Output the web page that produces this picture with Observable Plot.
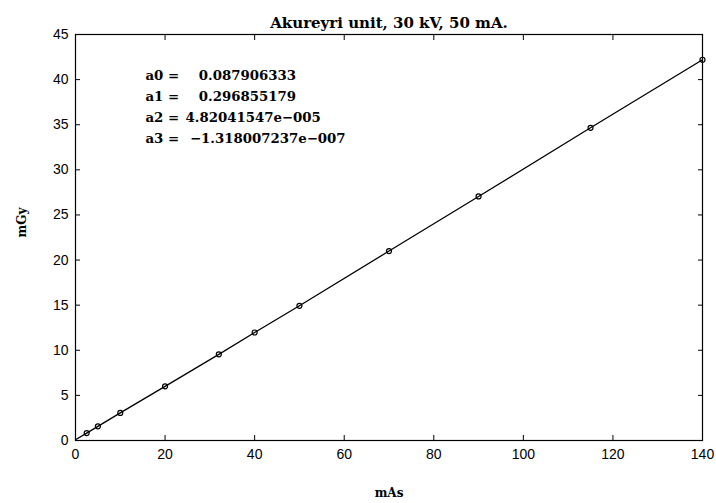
<!DOCTYPE html>
<html><head><meta charset="utf-8">
<script src="https://cdn.jsdelivr.net/npm/d3@7"></script>
<script src="https://cdn.jsdelivr.net/npm/@observablehq/plot@0.6"></script>
<style>body{margin:0;background:#fff}</style>
</head><body><div id="chart"></div>
<script>
const mAs = [2.5, 5, 10, 20, 32, 40, 50, 70, 90, 115, 140];
const mGy = [0.82, 1.57, 3.06, 6.0, 9.55, 11.97, 14.93, 21.0, 27.05, 34.66, 42.2];
const fitX = [0, 2.5, 5, 10, 20, 32, 40, 50, 70, 90, 115, 140];
const fitY = [0.09, 0.82, 1.57, 3.06, 6.0, 9.55, 11.97, 14.93, 21.0, 27.05, 34.66, 42.2];
const xTicks = [0, 20, 40, 60, 80, 100, 120, 140];
const yTicks = [0, 5, 10, 15, 20, 25, 30, 35, 40, 45];
const coefNames = ["a0 =", "a1 =", "a2 =", "a3 ="];
const coefValues = ["\u2002\u20020.087906333", "\u2002\u20020.296855179", "4.82041547e\u2212005", "\u2004\u22121.318007237e\u2212007"];
const title = "Akureyri unit, 30 kV, 50 mA.";

const pts = mAs.map((x, i) => ({x, y: mGy[i]}));
const fit = fitX.map((x, i) => ({x, y: fitY[i]}));
const tickFont = {fontFamily: "Liberation Sans, Arial, sans-serif", fontSize: 14};
const serif = "DejaVu Serif, serif";

const chart = Plot.plot({
  width: 716, height: 503,
  marginLeft: 75, marginRight: 14, marginTop: 34, marginBottom: 63,
  x: {domain: [0, 140]},
  y: {domain: [0, 45]},
  style: {background: "#fff", color: "#000"},
  marks: [
    Plot.frame({stroke: "#000", strokeWidth: 1.2}),
    Plot.axisX(xTicks, {anchor: "bottom", tickSize: 0, tickPadding: 9, label: null, ...tickFont}),
    Plot.axisX(xTicks, {anchor: "bottom", tickSize: 5, dy: -5, text: null, label: null}),
    Plot.axisX(xTicks, {anchor: "top", tickSize: 5, dy: 5, text: null, label: null}),
    Plot.axisY(yTicks, {anchor: "left", tickSize: 0, tickPadding: 7, label: null, ...tickFont}),
    Plot.axisY(yTicks, {anchor: "left", tickSize: 5, dx: 5, text: null, label: null}),
    Plot.axisY(yTicks, {anchor: "right", tickSize: 5, dx: -5, text: null, label: null}),
    Plot.line(fit, {x: "x", y: "y", stroke: "#000", strokeWidth: 1.3}),
    Plot.dot(pts, {x: "x", y: "y", r: 2.5, stroke: "#000", strokeWidth: 1.2, fill: "none"}),
    Plot.text([coefNames.join("\n")], {frameAnchor: "top-left", dx: 70, dy: 30, lineHeight: 1.6, textAnchor: "start", fontFamily: serif, fontWeight: "bold", fontSize: 13.3}),
    Plot.text([coefValues.join("\n")], {frameAnchor: "top-left", dx: 110, dy: 30, lineHeight: 1.6, textAnchor: "start", fontFamily: serif, fontWeight: "bold", fontSize: 13.3}),
    Plot.text([title], {frameAnchor: "top", dy: -17, fontFamily: serif, fontWeight: "bold", fontSize: 15}),
    Plot.text(["mAs"], {frameAnchor: "bottom", dy: 56, fontFamily: serif, fontWeight: "bold", fontSize: 12}),
    Plot.text(["mGy"], {frameAnchor: "left", dx: -53, rotate: -90, fontFamily: serif, fontWeight: "bold", fontSize: 12})
  ]
});
document.getElementById("chart").append(chart);
</script></body></html>
